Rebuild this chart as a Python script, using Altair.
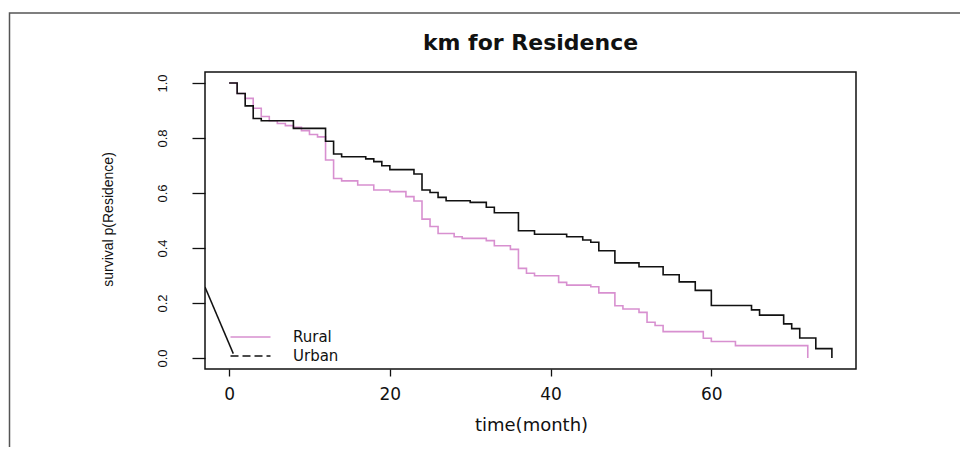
import altair as alt
import pandas as pd

# ---- data ----
groups = ["Rural", "Urban"]
line_colors = ["#d890d0", "#111111"]

rural_time = [0, 1, 2, 3, 4, 5, 6, 7, 8, 9, 10, 11, 12, 13, 14, 16, 18, 20, 22, 23,
              24, 25, 26, 28, 29, 32, 33, 35, 36, 37, 38, 41, 42, 45, 46, 48, 49,
              51, 52, 53, 54, 59, 60, 63, 72]
rural_surv = [1.0, 0.962, 0.944, 0.908, 0.878, 0.863, 0.853, 0.845, 0.839, 0.827,
              0.813, 0.804, 0.720, 0.653, 0.644, 0.629, 0.611, 0.605, 0.587, 0.571,
              0.505, 0.478, 0.453, 0.441, 0.435, 0.427, 0.408, 0.395, 0.326, 0.308,
              0.299, 0.275, 0.265, 0.259, 0.237, 0.190, 0.178, 0.166, 0.130, 0.118,
              0.096, 0.072, 0.060, 0.045, 0.0]

urban_time = [0, 1, 2, 3, 4, 8, 12, 13, 14, 17, 18, 19, 20, 23, 24, 25, 26, 27, 30,
              32, 33, 36, 38, 42, 44, 45, 46, 48, 51, 54, 56, 58, 60, 65, 66, 69,
              70, 71, 73, 75]
urban_surv = [1.0, 0.962, 0.917, 0.871, 0.863, 0.835, 0.788, 0.742, 0.732, 0.724,
              0.714, 0.699, 0.685, 0.669, 0.611, 0.602, 0.584, 0.572, 0.566, 0.548,
              0.528, 0.463, 0.450, 0.441, 0.429, 0.421, 0.390, 0.346, 0.332, 0.303,
              0.277, 0.246, 0.191, 0.175, 0.156, 0.124, 0.107, 0.073, 0.034, 0.0]

# stray segment drawn by the legend call in the original
stray_time = [-3.0, 0.52]
stray_surv = [0.258, 0.016]

x_ticks = [0, 20, 40, 60]
y_ticks = [0.0, 0.2, 0.4, 0.6, 0.8, 1.0]

df = pd.concat([
    pd.DataFrame({"time": rural_time, "surv": rural_surv, "group": "Rural"}),
    pd.DataFrame({"time": urban_time, "surv": urban_surv, "group": "Urban"}),
], ignore_index=True)
stray = pd.DataFrame({"time": stray_time, "surv": stray_surv})

x_scale = alt.Scale(domain=[-3, 78], nice=False, zero=False)
y_scale = alt.Scale(domain=[-0.04, 1.04], nice=False, zero=False)
color_scale = alt.Scale(domain=groups, range=line_colors)
dash_scale = alt.Scale(domain=groups, range=[[1, 0], [8, 4]])

WIDE = "DejaVu Sans"
NARROW = "Liberation Sans Narrow, Liberation Sans, Arial"

x_enc = alt.X("time:Q", scale=x_scale, axis=alt.Axis(
    title="time(month)", values=x_ticks, format="d", grid=False, domain=False,
    tickSize=7, tickColor="#111", tickWidth=1.3, labelPadding=10,
    labelFont=WIDE, labelFontSize=17, labelColor="#111",
    titleFont=WIDE, titleFontSize=18, titleFontWeight="normal", titleColor="#111",
    titleX=326, titleY=56, titleBaseline="middle", titleAlign="center"))
y_enc = alt.Y("surv:Q", scale=y_scale, axis=alt.Axis(
    title="survival p(Residence)", values=y_ticks, format=".1f", grid=False, domain=False,
    tickSize=13, tickColor="#111", tickWidth=1.3, labelPadding=30,
    labelAngle=270, labelAlign="center", labelBaseline="middle",
    labelFont=NARROW, labelFontSize=13, labelColor="#111",
    titleFont=NARROW, titleFontSize=14, titleFontWeight="normal", titleColor="#111",
    titleAngle=270, titleX=-97, titleY=147, titleBaseline="middle", titleAlign="center"))

def make_legend():
    return alt.Legend(
        title=None, orient="none", legendX=38, legendY=257.5,
        symbolType="M-10,0L10,0", symbolSize=16, symbolStrokeWidth=1.5,
        labelFont=WIDE, labelFontSize=15, labelColor="#111", labelOffset=35,
        rowPadding=3, padding=0)

curves = alt.Chart(df).mark_line(interpolate="step-after", strokeWidth=1.6, clip=True).encode(
    x=x_enc, y=y_enc,
    color=alt.Color("group:N", scale=color_scale, legend=make_legend()),
)

legend_layer = alt.Chart(df).transform_filter("false").mark_line(strokeWidth=1.5).encode(
    x=alt.X("time:Q", scale=x_scale),
    y=alt.Y("surv:Q", scale=y_scale),
    color=alt.Color("group:N", scale=color_scale, legend=make_legend()),
    strokeDash=alt.StrokeDash("group:N", scale=dash_scale, legend=make_legend()),
)

stray_line = alt.Chart(stray).mark_line(color="#111", strokeWidth=1.5, clip=True).encode(
    x=alt.X("time:Q", scale=x_scale), y=alt.Y("surv:Q", scale=y_scale))

frame = alt.Chart(pd.DataFrame({"k": [0]})).mark_rect(
    fillOpacity=0, stroke="#555", strokeWidth=1.5, clip=False).encode(
    x=alt.value(-195.5), x2=alt.value(800), y=alt.value(-59), y2=alt.value(420))

chart = alt.layer(frame, curves, stray_line, legend_layer).properties(
    width=651, height=297,
    title=alt.TitleParams("km for Residence", font=WIDE, fontSize=22, fontWeight="bold",
                          color="#111", anchor="middle", baseline="middle", offset=-52.75),
    autosize=alt.AutoSizeParams(type="none"),
    padding={"left": 197, "top": 64, "right": 104, "bottom": 78},
).configure(background="white").configure_view(stroke="#111", strokeWidth=1.5)

chart.save("out.html", embed_options={"renderer": "svg", "actions": False})
